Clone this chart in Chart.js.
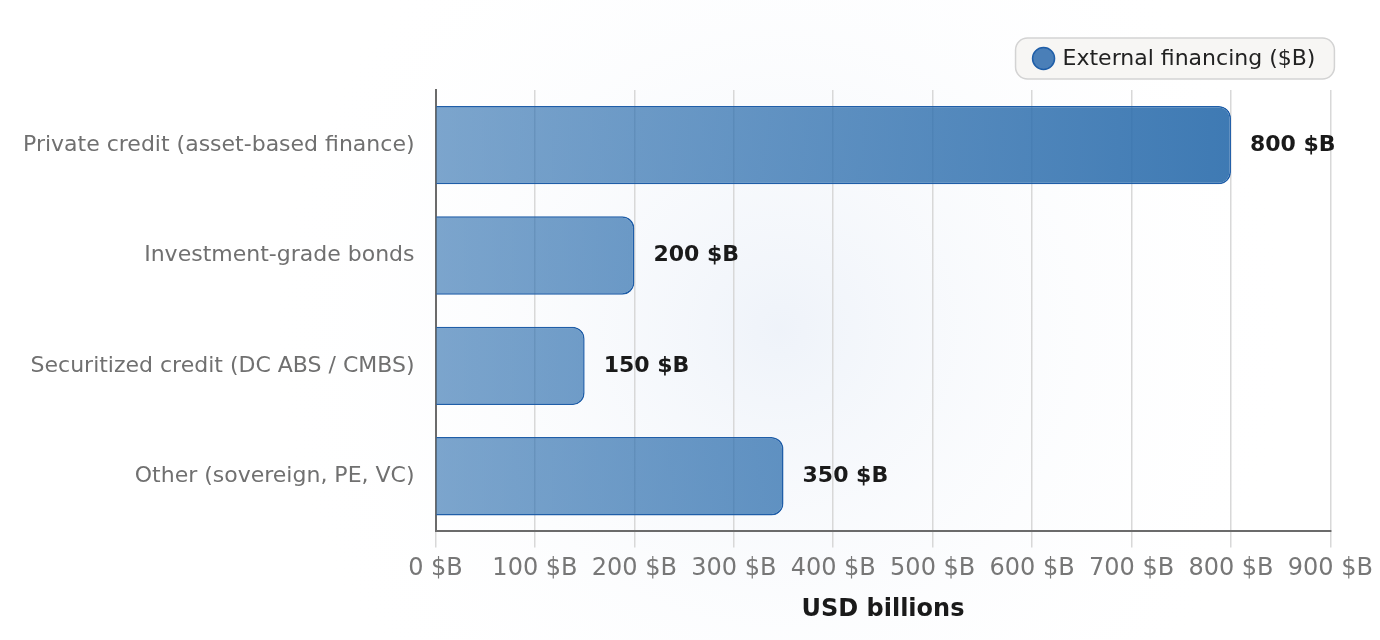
<!DOCTYPE html>
<html>
<head>
<meta charset="utf-8">
<script src="https://cdn.jsdelivr.net/npm/chart.js@4.4.1/dist/chart.umd.min.js"></script>
<style>
  html, body { margin: 0; padding: 0; background: #fff; }
  #wrap { width: 1380px; height: 640px; }
</style>
</head>
<body>
<div id="wrap"><canvas id="chart-financing"></canvas></div>
<script>
const categories = [
    "Private credit (asset-based finance)",
    "Investment-grade bonds",
    "Securitized credit (DC ABS / CMBS)",
    "Other (sovereign, PE, VC)",
];
const financing = [800, 200, 150, 350];
const seriesLabel = "External financing ($B)";
const axisTitle = "USD billions";

const ctxEl = document.getElementById("chart-financing");
const FONT = "'DejaVu Sans'";

// soft radial wash behind the plot
const backdrop = {
    id: "backdrop",
    beforeDraw(chart) {
        const { ctx, width, height } = chart;
        ctx.save();
        ctx.fillStyle = "#ffffff";
        ctx.fillRect(0, 0, width, height);
        const g = ctx.createRadialGradient(780, 330, 0, 780, 330, 520);
        g.addColorStop(0, "rgba(225,233,245,0.55)");
        g.addColorStop(1, "rgba(255,255,255,0)");
        ctx.fillStyle = g;
        ctx.fillRect(0, 0, width, height);
        ctx.restore();
    },
};

// legend pill in the top right, lined up with the plot's right edge
const legendBox = {
    id: "legendBox",
    afterDraw(chart) {
        const { ctx, chartArea } = chart;
        ctx.save();
        ctx.font = "22px " + FONT;
        const tw = ctx.measureText(seriesLabel).width;
        const w = 17 + 22 + 8 + tw + 19;
        const h = 41;
        const x = chartArea.right + 4 - w;
        const y = 38;
        ctx.beginPath();
        ctx.roundRect(x, y, w, h, 12);
        ctx.fillStyle = "#f7f6f4";
        ctx.fill();
        ctx.lineWidth = 1.5;
        ctx.strokeStyle = "#d3d3d3";
        ctx.stroke();

        ctx.beginPath();
        ctx.arc(x + 17 + 11, y + h / 2, 11, 0, Math.PI * 2);
        ctx.fillStyle = "#4a7fb8";
        ctx.fill();
        ctx.lineWidth = 1.5;
        ctx.strokeStyle = "#1f5ea8";
        ctx.stroke();

        ctx.fillStyle = "#222";
        ctx.textBaseline = "middle";
        ctx.fillText(seriesLabel, x + 17 + 22 + 8, y + h / 2 + 1);
        ctx.restore();
    },
};

const valueLabels = {
    id: "valueLabels",
    afterDatasetsDraw(chart) {
        const { ctx } = chart;
        const meta = chart.getDatasetMeta(0);
        ctx.save();
        ctx.font = "bold 22px " + FONT;
        ctx.fillStyle = "#1a1a1a";
        ctx.textBaseline = "middle";
        meta.data.forEach((bar, i) => {
            ctx.fillText(financing[i] + " $B", bar.x + 19, bar.y);
        });
        ctx.restore();
    },
};

function barFill(context) {
    const area = context.chart.chartArea;
    if (!area) return "rgba(44,110,172,0.7)";
    const g = context.chart.ctx.createLinearGradient(area.left, 0, area.right, 0);
    g.addColorStop(0, "rgba(44,110,174,0.62)");
    g.addColorStop(1, "rgba(44,109,172,0.95)");
    return g;
}

new Chart(ctxEl, {
    type: "bar",
    data: {
        labels: categories,
        datasets: [
            {
                label: seriesLabel,
                data: financing,
                backgroundColor: barFill,
                borderColor: "#1f5ea8",
                borderWidth: 1.5,
                borderRadius: 12,
                borderSkipped: "start",
                barPercentage: 0.71,
                categoryPercentage: 1,
            },
        ],
    },
    options: {
        indexAxis: "y",
        responsive: true,
        maintainAspectRatio: false,
        animation: false,
        layout: { padding: { top: 90, right: 7, left: 10, bottom: 12 } },
        plugins: {
            legend: { display: false },
            tooltip: { enabled: false },
        },
        scales: {
            x: {
                min: 0,
                max: 900,
                ticks: {
                    stepSize: 100,
                    color: "#777",
                    font: { family: FONT, size: 24 },
                    padding: 7,
                    callback: (v) => v + " $B",
                },
                grid: { color: "#d8d8d8", lineWidth: 1.5, tickLength: 16 },
                border: { color: "#6b6b6b", width: 2 },
                title: {
                    display: true,
                    text: axisTitle,
                    color: "#1a1a1a",
                    font: { family: FONT, size: 24, weight: "bold" },
                    padding: { top: 5 },
                },
            },
            y: {
                ticks: {
                    color: "#707070",
                    font: { family: FONT, size: 22 },
                    padding: 13,
                },
                grid: { display: false },
                border: { color: "#6b6b6b", width: 2 },
            },
        },
    },
    plugins: [backdrop, valueLabels, legendBox],
});
</script>
</body>
</html>
